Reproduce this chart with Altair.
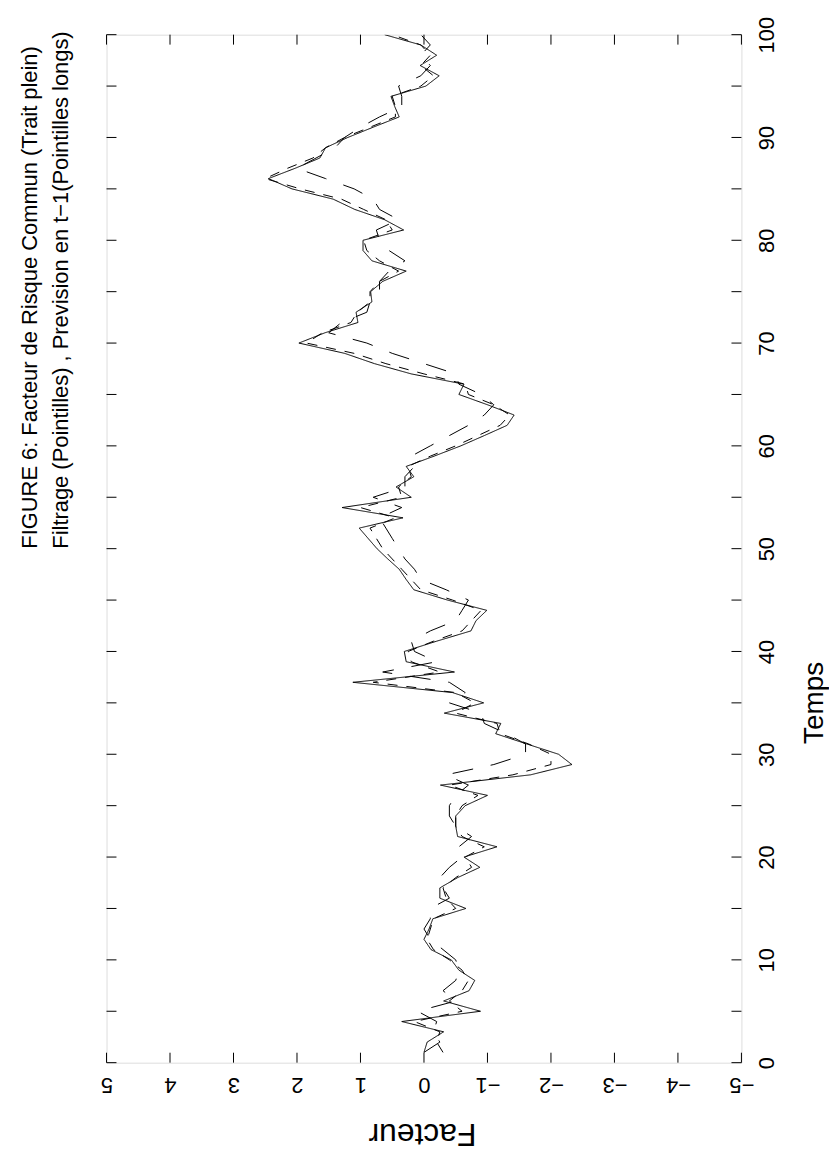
import altair as alt
import pandas as pd

temps = list(range(1, 101))

facteur = [
    0.0, -0.05, -0.31, 0.35, -0.89, -0.31, -0.71, -0.80, -0.55, -0.43,
    -0.11, 0.0, -0.08, -0.14, -0.66, -0.25, -0.25, -0.53, -0.88, -0.63,
    -1.15, -0.53, -0.50, -0.50, -0.65, -1.0, -0.26, -1.68, -2.33, -2.12,
    -1.62, -1.13, -1.21, -0.32, -0.94, -0.45, 1.12, -0.48, 0.28, 0.31,
    -0.20, -0.74, -0.82, -0.99, -0.37, 0.16, 0.28, 0.39, 0.57, 0.74,
    0.88, 1.02, 0.33, 1.29, 0.20, 0.44, 0.16, 0.28, -0.16, -0.58,
    -0.95, -1.31, -1.42, -1.0, -0.55, -0.63, 0.20, 0.78, 1.25, 1.97,
    1.56, 1.04, 1.07, 0.82, 0.84, 0.65, 0.28, 0.82, 0.96, 0.96,
    0.32, 0.62, 1.09, 1.43, 2.08, 2.45, 2.03, 1.64, 1.55, 1.20,
    0.80, 0.39, 0.46, 0.52, -0.03, -0.24, 0.06, -0.20, 0.05, 0.62,
]

filtrage = [
    -0.30, -0.20, -0.25, 0.15, -0.60, -0.40, -0.60, -0.70, -0.60, -0.40,
    -0.15, -0.05, -0.10, -0.15, -0.50, -0.35, -0.30, -0.50, -0.75, -0.65,
    -0.95, -0.60, -0.50, -0.50, -0.60, -0.85, -0.40, -1.40, -2.00, -2.00,
    -1.65, -1.20, -1.15, -0.50, -0.80, -0.50, 0.80, -0.25, 0.20, 0.25,
    -0.15, -0.60, -0.75, -0.90, -0.45, 0.05, 0.20, 0.35, 0.50, 0.65,
    0.75, 0.85, 0.45, 1.00, 0.35, 0.40, 0.20, 0.25, -0.10, -0.50,
    -0.85, -1.20, -1.35, -1.10, -0.70, -0.65, 0.00, 0.60, 1.10, 1.85,
    1.60, 1.15, 1.05, 0.85, 0.85, 0.70, 0.40, 0.70, 0.90, 0.95,
    0.50, 0.60, 0.95, 1.30, 1.95, 2.50, 2.15, 1.75, 1.55, 1.25,
    0.85, 0.45, 0.45, 0.50, 0.05, -0.15, 0.05, -0.10, 0.05, 0.50,
]

prevision = [
    0.00, -0.25, -0.15, -0.20, 0.10, -0.50, -0.30, -0.50, -0.55, -0.50,
    -0.30, -0.10, 0.00, -0.10, -0.10, -0.40, -0.30, -0.25, -0.40, -0.60,
    -0.55, -0.75, -0.50, -0.40, -0.40, -0.50, -0.70, -0.35, -1.10, -1.60,
    -1.60, -1.30, -0.95, -0.90, -0.40, -0.65, -0.40, 0.65, -0.20, 0.15,
    0.20, -0.10, -0.50, -0.60, -0.70, -0.35, 0.05, 0.15, 0.30, 0.40,
    0.50, 0.60, 0.70, 0.35, 0.80, 0.30, 0.30, 0.15, 0.20, -0.10,
    -0.40, -0.70, -0.95, -1.10, -0.90, -0.55, -0.50, 0.00, 0.50, 0.90,
    1.50, 1.30, 0.90, 0.85, 0.70, 0.70, 0.55, 0.30, 0.55, 0.70,
    0.75, 0.40, 0.70, 0.80, 1.10, 1.55, 2.00, 1.70, 1.40, 1.25,
    1.00, 0.70, 0.35, 0.35, 0.40, 0.05, -0.10, 0.05, -0.10, 0.05,
]

series_names = ["Facteur", "Filtrage", "Prevision"]
temps_labels = list(range(0, 101, 10))
temps_ticks = list(range(0, 101, 5))
facteur_labels = list(range(-5, 6))

title_lines = [
    "FIGURE 6: Facteur de Risque Commun (Trait plein)",
    "Filtrage (Pointilles) , Prevision en t\u22121(Pointilles longs)",
]

rows = []
for name, vals in zip(series_names, [facteur, filtrage, prevision]):
    for t, v in zip(temps, vals):
        rows.append({"Temps": t, "Valeur": v, "serie": name})
df = pd.DataFrame(rows)

W, H = 638, 1033
FONT = "Liberation Sans"

xscale = alt.Scale(domain=[-5, 5], reverse=True, nice=False, zero=False)
yscale = alt.Scale(domain=[0, 100], nice=False, zero=False)

x_axis = alt.Axis(
    orient="bottom", values=facteur_labels, format="d",
    grid=False, domain=False, ticks=False, tickSize=0,
    labelAngle=180, labelAlign="center", labelBaseline="middle",
    labelPadding=22, labelFontSize=22, labelFont=FONT, labelColor="black",
    labelOverlap=False, labelFlush=False, labelBound=False,
    titleAngle=180, titleFontSize=32, titleFont=FONT, titleFontWeight="normal",
    titleColor="black", titleAlign="center", titleBaseline="middle",
    titleX=W / 2 - 2, titleY=71)
y_axis = alt.Axis(
    orient="right", values=temps_labels, format="d",
    grid=False, domain=False, ticks=False, tickSize=0,
    labelAngle=270, labelAlign="center", labelBaseline="middle",
    labelPadding=25, labelFontSize=22, labelFont=FONT, labelColor="black",
    labelOverlap=False, labelFlush=False, labelBound=False,
    titleAngle=270, titleFontSize=28, titleFont=FONT, titleFontWeight="normal",
    titleColor="black", titleAlign="center", titleBaseline="middle",
    titleX=73, titleY=671)

X = lambda: alt.X("Valeur:Q", scale=xscale, axis=x_axis, title="Facteur")
Y = lambda: alt.Y("Temps:Q", scale=yscale, axis=y_axis, title="Temps")

lines = alt.Chart(df).mark_line(color="black", strokeWidth=1, clip=True).encode(
    x=X(),
    y=Y(),
    strokeDash=alt.StrokeDash("serie:N", scale=alt.Scale(
        domain=series_names, range=[[1, 0], [10, 9], [21, 18]]), legend=None),
    detail="serie:N",
    order=alt.Order("Temps:Q"),
)

tdf = pd.DataFrame({"Temps": temps_ticks})
fdf = pd.DataFrame({"Valeur": facteur_labels})

right_ticks = alt.Chart(tdf).mark_rule(color="black", strokeWidth=1).encode(
    y=Y(), x=alt.value(W - 10), x2=alt.value(W))
left_ticks = alt.Chart(tdf).mark_rule(color="black", strokeWidth=1).encode(
    y=Y(), x=alt.value(0), x2=alt.value(10))
bottom_ticks = alt.Chart(fdf).mark_rule(color="black", strokeWidth=1).encode(
    x=X(), y=alt.value(H - 10), y2=alt.value(H))
top_ticks = alt.Chart(fdf).mark_rule(color="black", strokeWidth=1).encode(
    x=X(), y=alt.value(0), y2=alt.value(10))

chart = alt.layer(lines, right_ticks, left_ticks, bottom_ticks, top_ticks).properties(
    width=W, height=H,
    title=alt.TitleParams(
        text=title_lines, orient="left", anchor="middle", align="left",
        angle=270, baseline="bottom", fontSize=22, font=FONT,
        fontWeight="normal", color="black", lineHeight=31, offset=6),
    autosize=alt.AutoSizeParams(type="none"),
    padding={"left": 99, "top": 24, "right": 88, "bottom": 92},
).configure_view(stroke="black", strokeWidth=2).configure(background="white")

chart.save("out.html", embed_options={"renderer": "svg", "actions": False})
